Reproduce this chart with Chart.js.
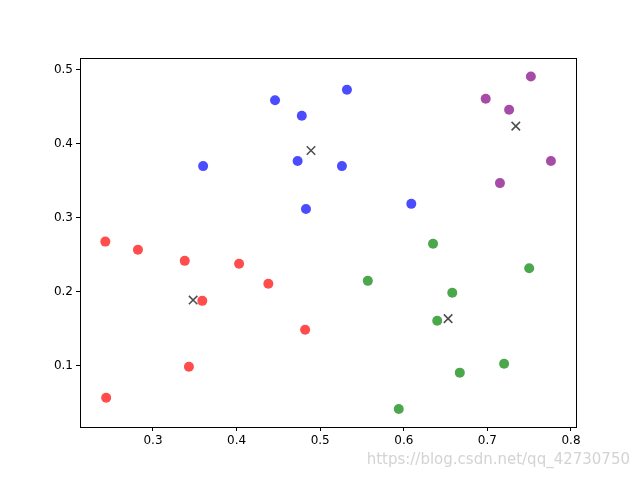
<!DOCTYPE html>
<html>
<head>
<meta charset="utf-8">
<script src="https://cdn.jsdelivr.net/npm/chart.js@4/dist/chart.umd.min.js"></script>
<style>
  body { margin: 0; background: #fff; }
  #wrap { position: relative; width: 640px; height: 480px; }
  #mark { position: absolute; right: 10px; bottom: 12px; font: 15px "DejaVu Sans", sans-serif; color: rgba(200,200,200,0.8); }
</style>
</head>
<body>
<div id="wrap">
  <canvas id="c" width="640" height="480"></canvas>
  <div id="mark">https://blog.csdn.net/qq_42730750</div>
</div>
<script>
// cluster points
const redX = [0.243, 0.282, 0.338, 0.403, 0.438, 0.359, 0.482, 0.343, 0.244]
const redY = [0.268, 0.257, 0.242, 0.238, 0.211, 0.188, 0.149, 0.099, 0.057]
const blueX = [0.446, 0.532, 0.478, 0.360, 0.473, 0.526, 0.483, 0.609]
const blueY = [0.459, 0.473, 0.438, 0.370, 0.377, 0.370, 0.312, 0.319]
const purpleX = [0.698, 0.752, 0.726, 0.776, 0.715]
const purpleY = [0.461, 0.491, 0.446, 0.377, 0.347]
const greenX = [0.635, 0.557, 0.658, 0.750, 0.640, 0.720, 0.667, 0.594]
const greenY = [0.265, 0.215, 0.199, 0.232, 0.161, 0.103, 0.091, 0.042]
const centerX = [0.348, 0.489, 0.734, 0.653]
const centerY = [0.189, 0.391, 0.424, 0.164]

const xTicks = [0.3, 0.4, 0.5, 0.6, 0.7, 0.8]
const yTicks = [0.1, 0.2, 0.3, 0.4, 0.5]

const pts = (xs, ys) => xs.map((x, i) => ({ x: x, y: ys[i] }))

const dot = (data, colour) => ({
  data: pts(data[0], data[1]),
  backgroundColor: colour,
  borderWidth: 0,
  pointRadius: 5,
  pointHoverRadius: 5
})

const frame = {
  id: 'frame',
  afterDraw(chart) {
    const a = chart.chartArea, ctx = chart.ctx
    ctx.save()
    ctx.strokeStyle = '#000'
    ctx.lineWidth = 1
    ctx.strokeRect(a.left + 0.5, a.top + 0.5, a.right - a.left, a.bottom - a.top)
    ctx.restore()
  }
}

const axis = (min, max, ticks, fit) => ({
  type: 'linear',
  min: min,
  max: max,
  afterBuildTicks: s => { s.ticks = ticks.map(v => ({ value: v })) },
  afterFit: fit,
  grid: { drawOnChartArea: false, drawTicks: true, tickLength: 4, color: '#000' },
  border: { display: false },
  ticks: { color: '#000', padding: 3, font: { family: 'DejaVu Sans', size: 12 },
           callback: v => String(Math.round(v * 10) / 10) }
})

new Chart(document.getElementById('c'), {
  type: 'scatter',
  data: {
    datasets: [
      dot([redX, redY], 'rgba(255,0,0,0.7)'),
      dot([blueX, blueY], 'rgba(0,0,255,0.7)'),
      dot([purpleX, purpleY], 'rgba(128,0,128,0.7)'),
      dot([greenX, greenY], 'rgba(0,128,0,0.7)'),
      {
        data: pts(centerX, centerY),
        pointStyle: 'cross',
        rotation: 45,
        borderColor: 'rgba(0,0,0,0.7)',
        borderWidth: 1.5,
        pointRadius: 6,
        pointHoverRadius: 6
      }
    ]
  },
  options: {
    responsive: false,
    animation: false,
    layout: { padding: { left: 40, right: 64, top: 58, bottom: 23 } },
    plugins: { legend: { display: false }, tooltip: { enabled: false } },
    scales: {
      x: axis(0.2127, 0.806, xTicks, s => { s.height = 30 }),
      y: axis(0.0176, 0.516, yTicks, s => { s.width = 40 })
    }
  },
  plugins: [frame]
})
</script>
</body>
</html>
